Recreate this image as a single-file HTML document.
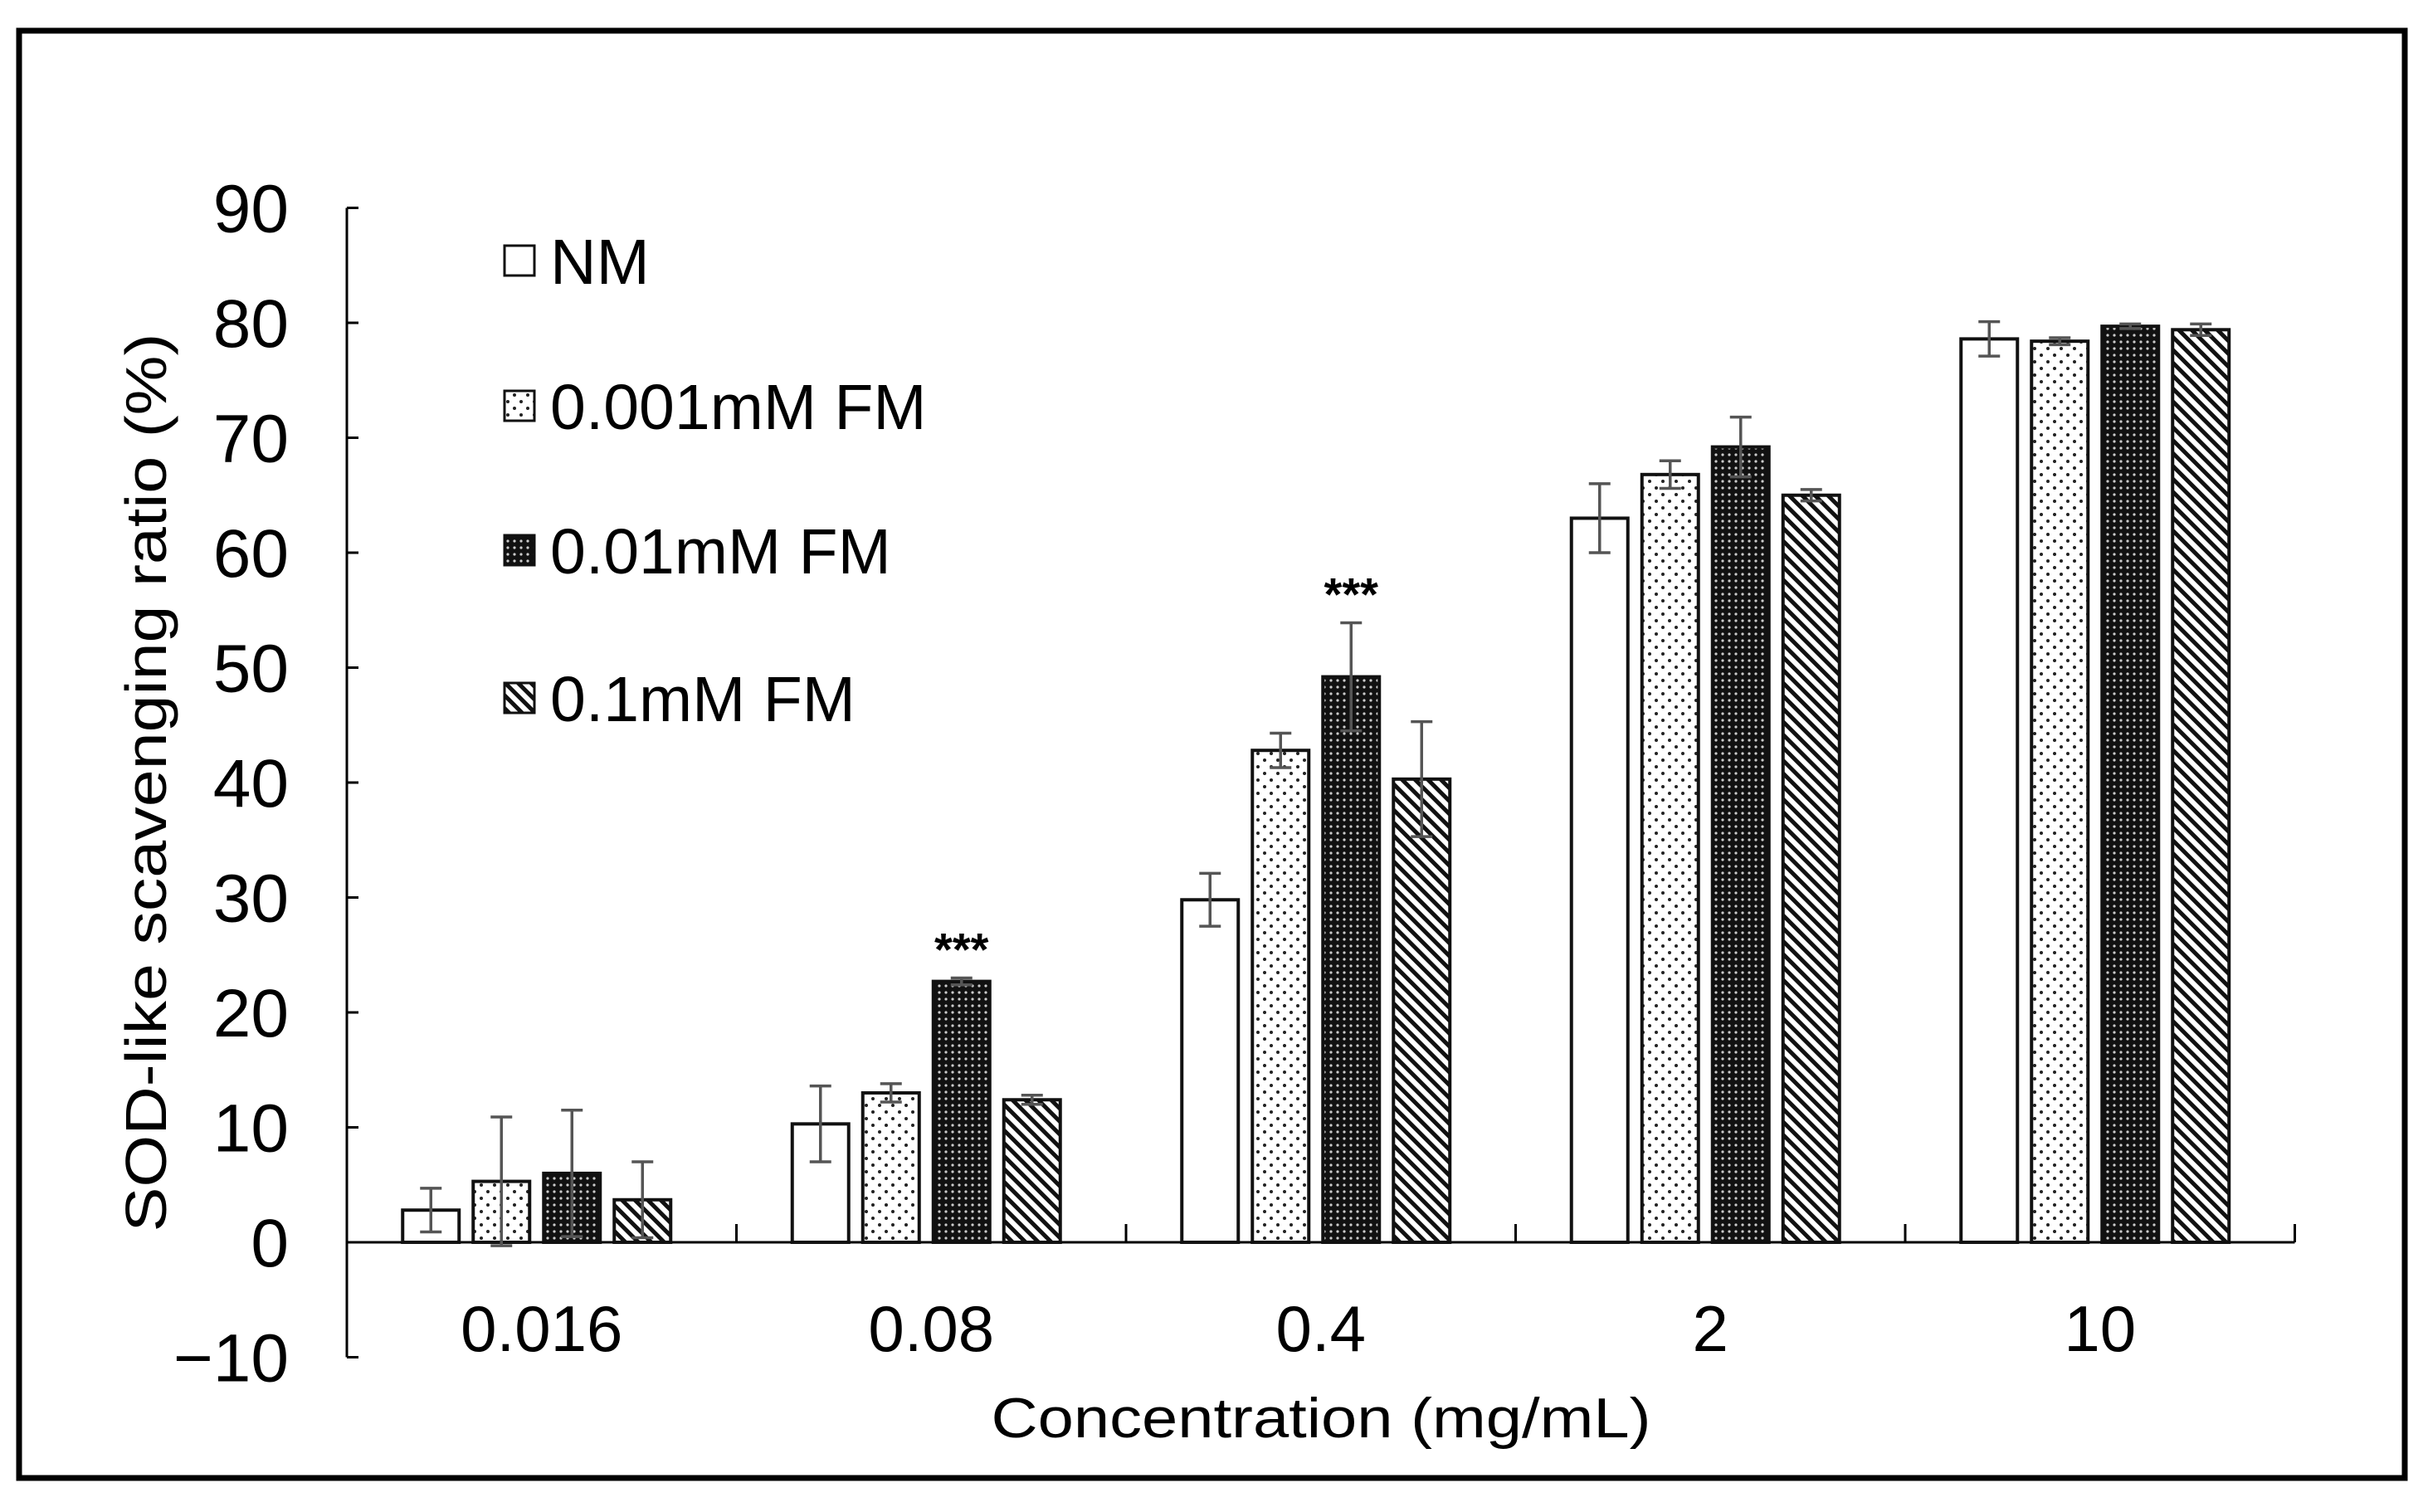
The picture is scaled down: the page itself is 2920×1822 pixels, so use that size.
<!DOCTYPE html>
<html><head><meta charset="utf-8"><style>
html,body{margin:0;padding:0;background:#fff;}
svg{display:block;font-family:"Liberation Sans",Arial,sans-serif;}
</style></head><body>
<svg id="chart" width="2920" height="1822" viewBox="0 0 2920 1822" xmlns="http://www.w3.org/2000/svg">
<defs>
<pattern id="pDots" width="16" height="16" patternUnits="userSpaceOnUse">
<rect width="16" height="16" fill="#fff"/>
<circle cx="4" cy="4" r="2" fill="#222"/><circle cx="12" cy="12" r="2" fill="#222"/>
</pattern>
<pattern id="pDark" width="8" height="8" patternUnits="userSpaceOnUse">
<rect width="8" height="8" fill="#111"/>
<circle cx="4" cy="4" r="1.6" fill="#ccc"/>
</pattern>
<pattern id="pStripe" width="11" height="11" patternUnits="userSpaceOnUse" patternTransform="rotate(-45)">
<rect width="11" height="11" fill="#fff"/>
<rect x="0" y="0" width="5" height="11" fill="#111"/>
</pattern>
</defs>
<rect x="23" y="37" width="2875" height="1744" fill="none" stroke="#000" stroke-width="7"/>
<g id="axes"></g>
<g id="bars"></g>
<g id="legend"></g>
<text transform="translate(200,943) rotate(-90)" text-anchor="middle" font-size="70" textLength="1083" lengthAdjust="spacingAndGlyphs">SOD-like scavenging ratio (%)</text>
<text x="1592" y="1732" text-anchor="middle" font-size="68" textLength="795" lengthAdjust="spacingAndGlyphs">Concentration (mg/mL)</text>
</svg>
<script>
const categories = ["0.016","0.08","0.4","2","10"];
const seriesNames = ["NM","0.001mM FM","0.01mM FM","0.1mM FM"];
const valsNM = [2.8,10.3,29.8,63.0,78.6];
const vals001 = [5.3,13.0,42.8,66.8,78.4];
const vals01 = [6.0,22.7,49.2,69.2,79.7];
const vals1 = [3.7,12.4,40.3,65.0,79.4];
const errNM = [1.9,3.3,2.3,3.0,1.5];
const err001 = [5.6,0.8,1.5,1.2,0.3];
const err01 = [5.5,0.3,4.7,2.6,0.2];
const err1 = [3.3,0.4,5.0,0.5,0.5];
const yTicks = [-10,0,10,20,30,40,50,60,70,80,90];
const stars = [null,"***","***",null,null];

const NS="http://www.w3.org/2000/svg";
const X0=418, GW=469.5, Y0=1497, PU=13.85;
const y=v=>Y0-v*PU;
const gc=i=>X0+GW/2+i*GW;
const fills=["#fff","url(#pDots)","url(#pDark)","url(#pStripe)"];
const allVals=[valsNM,vals001,vals01,vals1];
const allErr=[errNM,err001,err01,err1];
function mk(tag,attrs,parent){const e=document.createElementNS(NS,tag);for(const k in attrs)e.setAttribute(k,attrs[k]);parent.appendChild(e);return e;}
const axes=document.getElementById('axes');
const bars=document.getElementById('bars');
const legend=document.getElementById('legend');
let e;
e=mk('line',{x1:X0,x2:X0,y1:y(90),y2:y(-10),stroke:'#000','stroke-width':3},axes);


yTicks.forEach(t=>{
 e=mk('line',{x1:X0,x2:X0+14,y1:y(t),y2:y(t),stroke:'#000','stroke-width':3},axes);
 
 
 e=mk('text',{x:348,y:y(t)+29,'text-anchor':'end','font-size':82},axes);
 e.textContent=(t<0?'\u2212'+(-t):t);
 
 
});
categories.forEach((c,i)=>{
 e=mk('text',{x:gc(i),y:1628,'text-anchor':'middle','font-size':78},axes);
 e.textContent=c;
 
 
});
for(let i=1;i<=categories.length;i++){
 e=mk('line',{x1:X0+i*GW,x2:X0+i*GW,y1:Y0,y2:Y0-22,stroke:'#000','stroke-width':3},axes);
 
 
}
const PITCH=85,BW=68;
categories.forEach((c,i)=>{
 allVals.forEach((vals,s)=>{
  const cx=gc(i)+(s-1.5)*PITCH-6;
  const v=vals[i], er=allErr[s][i];
  e=mk('rect',{x:cx-BW/2,y:y(v),width:BW,height:Y0-y(v),fill:fills[s],stroke:'#111','stroke-width':4},bars);
  
  
  const g=mk('g',{stroke:'#555','stroke-width':3.5},bars);
  
  
  mk('line',{x1:cx,x2:cx,y1:y(v+er),y2:y(v-er)},g);
  mk('line',{x1:cx-13,x2:cx+13,y1:y(v+er),y2:y(v+er)},g);
  mk('line',{x1:cx-13,x2:cx+13,y1:y(v-er),y2:y(v-er)},g);
  if(s===2 && stars[i]){
   e=mk('text',{x:cx,y:y(v+er)-15,'text-anchor':'middle','font-size':56,'font-weight':'bold'},bars);
   e.textContent=stars[i];
   
   
  }
 });
});
e=mk('line',{x1:X0,x2:X0+GW*5,y1:Y0,y2:Y0,stroke:'#000','stroke-width':3},axes);


const legY=[314,489,663,841];
seriesNames.forEach((n,s)=>{
 e=mk('rect',{x:608,y:legY[s]-18,width:36,height:36,fill:fills[s],stroke:'#111','stroke-width':3},legend);
 
 
 e=mk('text',{x:663,y:legY[s]+28,'font-size':77},legend);
 e.textContent=n;
 
 
});
</script>
</body></html>
